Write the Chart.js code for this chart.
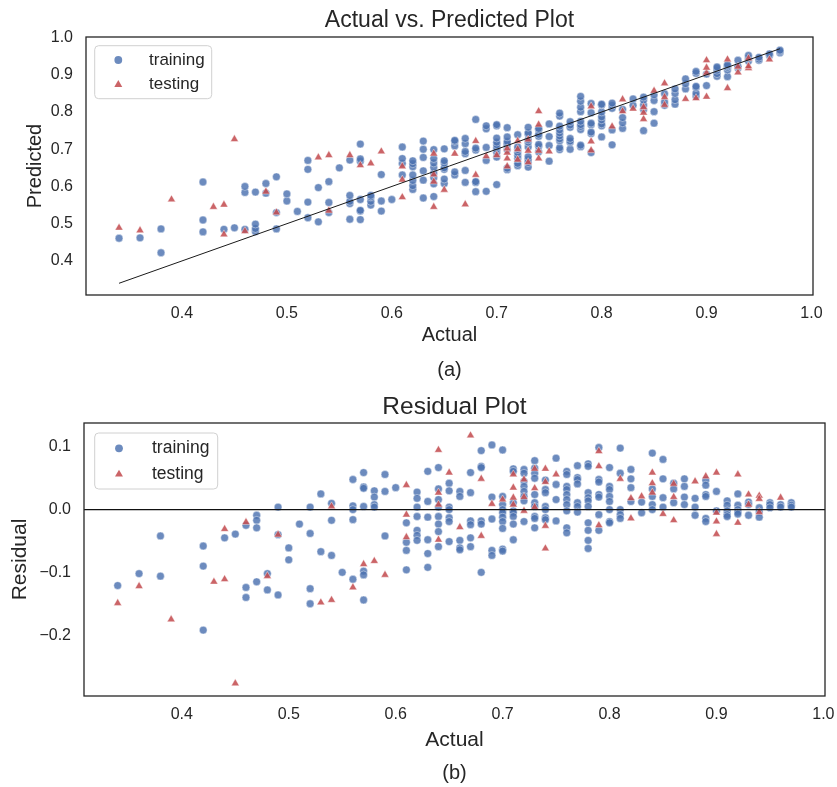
<!DOCTYPE html>
<html lang="en">
<head>
<meta charset="UTF-8">
<title>Actual vs. Predicted Plot / Residual Plot</title>
<script src="https://cdn.jsdelivr.net/npm/chart.js"></script>
<style>
  body { margin: 0; background: #fff; }
  #wrap { position: relative; width: 837px; height: 787px; }
  #wrap canvas { position: absolute; left: 0; }
</style>
</head>
<body>
<div id="wrap">
  <canvas id="predChart" width="837" height="388" style="top:0"></canvas>
  <canvas id="residChart" width="837" height="399" style="top:388px"></canvas>
</div>
<script>
// [actual, residual] pairs, residual = actual - predicted
const trainPoints = [
  [0.34, -0.121], [0.36, -0.102], [0.38, -0.042], [0.38, -0.106],
  [0.42, -0.058], [0.42, -0.090], [0.42, -0.192], [0.44, -0.045], [0.45, -0.039],
  [0.46, -0.025], [0.46, -0.124], [0.46, -0.140],
  [0.47, -0.009], [0.47, -0.017], [0.47, -0.029], [0.47, -0.115],
  [0.48, -0.102], [0.48, -0.128],
  [0.49, 0.004], [0.49, -0.040], [0.49, -0.136],
  [0.50, -0.061], [0.50, -0.080], [0.51, -0.023],
  [0.52, 0.004], [0.52, -0.038], [0.52, -0.126], [0.52, -0.150],
  [0.53, 0.025], [0.53, -0.067],
  [0.54, 0.010], [0.54, -0.017], [0.54, -0.073], [0.55, -0.100],
  [0.56, 0.048], [0.56, 0.006], [0.56, 0.000], [0.56, -0.016], [0.56, -0.111],
  [0.57, 0.059], [0.57, 0.036], [0.57, 0.034], [0.57, 0.005], [0.57, -0.098], [0.57, -0.104], [0.57, -0.144],
  [0.58, 0.030], [0.58, 0.020], [0.58, 0.008], [0.58, 0.004],
  [0.59, 0.056], [0.59, 0.029], [0.59, -0.042], [0.60, 0.035],
  [0.61, -0.021], [0.61, -0.052], [0.61, -0.065], [0.61, -0.096],
  [0.62, 0.028], [0.62, 0.018], [0.62, 0.004], [0.62, -0.011], [0.62, -0.033], [0.62, -0.041], [0.62, -0.049],
  [0.63, 0.061], [0.63, 0.013], [0.63, -0.012], [0.63, -0.048], [0.63, -0.070], [0.63, -0.092],
  [0.64, 0.067], [0.64, 0.033], [0.64, 0.016], [0.64, 0.004], [0.64, -0.011], [0.64, -0.023], [0.64, -0.035], [0.64, -0.059],
  [0.65, 0.042], [0.65, 0.030], [0.65, 0.004], [0.65, 0.000], [0.65, -0.013], [0.65, -0.019], [0.65, -0.051],
  [0.66, 0.029], [0.66, 0.021], [0.66, -0.049], [0.66, -0.061], [0.66, -0.064],
  [0.67, 0.059], [0.67, 0.027], [0.67, -0.018], [0.67, -0.024], [0.67, -0.045], [0.67, -0.059],
  [0.68, 0.094], [0.68, 0.069], [0.68, 0.067], [0.68, -0.018], [0.68, -0.023], [0.68, -0.100],
  [0.69, 0.103], [0.69, 0.020], [0.69, -0.015], [0.69, -0.065], [0.69, -0.073],
  [0.70, 0.095], [0.70, 0.021], [0.70, 0.008], [0.70, 0.000], [0.70, -0.005], [0.70, -0.012], [0.70, -0.019], [0.70, -0.030], [0.70, -0.063], [0.70, -0.066],
  [0.71, 0.065], [0.71, 0.061], [0.71, 0.011], [0.71, -0.002], [0.71, -0.005], [0.71, -0.011], [0.71, -0.023], [0.71, -0.048],
  [0.72, 0.064], [0.72, 0.058], [0.72, 0.045], [0.72, 0.037], [0.72, 0.029], [0.72, 0.021], [0.72, 0.014], [0.72, -0.019],
  [0.73, 0.078], [0.73, 0.066], [0.73, 0.058], [0.73, 0.050], [0.73, 0.024], [0.73, 0.011], [0.73, 0.005], [0.73, -0.011], [0.73, -0.014], [0.73, -0.029],
  [0.74, 0.047], [0.74, 0.032], [0.74, 0.027], [0.74, 0.005], [0.74, 0.000], [0.74, -0.013], [0.74, -0.016],
  [0.75, 0.082], [0.75, 0.040], [0.75, 0.016], [0.75, -0.018],
  [0.76, 0.061], [0.76, 0.056], [0.76, 0.037], [0.76, 0.032], [0.76, 0.024], [0.76, 0.016], [0.76, 0.008], [0.76, -0.002], [0.76, -0.029], [0.76, -0.037],
  [0.77, 0.070], [0.77, 0.051], [0.77, 0.048], [0.77, 0.041], [0.77, 0.011], [0.77, 0.005], [0.77, -0.004],
  [0.78, 0.073], [0.78, 0.069], [0.78, 0.027], [0.78, 0.019], [0.78, 0.014], [0.78, 0.005], [0.78, -0.021], [0.78, -0.033], [0.78, -0.049], [0.78, -0.062],
  [0.79, 0.099], [0.79, 0.048], [0.79, 0.044], [0.79, 0.024], [0.79, 0.020], [0.79, -0.008], [0.79, -0.033],
  [0.80, 0.067], [0.80, 0.037], [0.80, 0.032], [0.80, 0.021], [0.80, 0.013], [0.80, 0.000], [0.80, -0.019], [0.80, -0.021],
  [0.81, 0.098], [0.81, 0.058], [0.81, 0.000], [0.81, -0.008], [0.81, -0.014],
  [0.82, 0.064], [0.82, 0.049], [0.82, 0.035], [0.82, 0.013], [0.83, 0.012], [0.83, -0.005],
  [0.84, 0.090], [0.84, 0.033], [0.84, 0.021], [0.84, 0.008], [0.84, 0.000],
  [0.85, 0.080], [0.85, 0.049], [0.85, 0.019], [0.85, 0.004],
  [0.86, 0.042], [0.86, 0.033], [0.86, 0.011],
  [0.87, 0.049], [0.87, 0.037], [0.87, 0.020], [0.87, 0.008],
  [0.88, 0.018], [0.88, 0.004], [0.88, -0.009],
  [0.89, 0.047], [0.89, 0.039], [0.89, 0.024], [0.89, 0.021], [0.89, -0.014], [0.89, -0.019],
  [0.90, 0.029], [0.90, -0.002],
  [0.91, 0.014], [0.91, 0.007], [0.91, -0.002], [0.91, -0.008], [0.91, -0.011],
  [0.92, 0.025], [0.92, 0.007], [0.92, 0.000], [0.92, -0.004], [0.92, -0.007],
  [0.93, 0.012], [0.93, 0.008], [0.93, -0.009],
  [0.94, 0.003], [0.94, -0.004], [0.94, -0.012],
  [0.95, 0.011], [0.95, 0.008], [0.95, 0.003],
  [0.96, 0.008], [0.96, 0.004],
  [0.97, 0.011], [0.97, 0.007], [0.97, 0.004]
];

const testPoints = [
  [0.34, -0.149], [0.36, -0.122], [0.39, -0.175], [0.43, -0.115],
  [0.44, -0.111], [0.44, -0.031], [0.45, -0.277], [0.46, -0.020],
  [0.48, -0.106], [0.49, -0.040], [0.53, -0.148], [0.54, -0.144], [0.54, 0.005],
  [0.56, -0.124], [0.57, -0.087], [0.58, -0.082], [0.59, -0.104],
  [0.61, 0.039], [0.61, -0.008], [0.61, -0.044],
  [0.64, 0.095], [0.64, 0.027], [0.64, 0.008], [0.64, -0.048],
  [0.65, 0.059], [0.66, -0.028], [0.67, 0.118], [0.68, 0.049], [0.68, -0.042],
  [0.69, 0.009], [0.70, 0.016],
  [0.71, 0.056], [0.71, 0.035], [0.71, 0.019], [0.71, 0.008],
  [0.72, 0.048], [0.72, 0.020], [0.72, -0.002],
  [0.73, 0.065], [0.73, 0.034], [0.73, 0.004],
  [0.74, 0.065], [0.74, 0.044], [0.74, -0.026], [0.74, -0.062],
  [0.75, 0.056], [0.79, 0.093], [0.79, 0.069], [0.79, -0.025],
  [0.81, 0.049], [0.82, 0.018], [0.82, -0.014], [0.83, 0.021],
  [0.84, 0.059], [0.84, 0.042], [0.84, 0.027], [0.85, -0.007],
  [0.86, 0.041], [0.86, 0.020], [0.86, -0.017], [0.88, 0.045], [0.89, 0.053],
  [0.90, 0.059], [0.90, -0.005], [0.90, -0.019], [0.90, -0.039],
  [0.92, 0.056], [0.92, -0.021], [0.93, 0.024], [0.93, 0.008],
  [0.94, 0.022], [0.94, 0.017], [0.94, -0.004], [0.96, 0.019]
];

const seriesNames = ['training', 'testing'];
const xLimits = [0.3085, 1.0015];
const predLimits = [0.3085, 1.0015];
const residLimits = [-0.297, 0.138];
const xTicks = [0.4, 0.5, 0.6, 0.7, 0.8, 0.9, 1.0];
const predTicks = [0.4, 0.5, 0.6, 0.7, 0.8, 0.9, 1.0];
const residTicks = [-0.2, -0.1, 0.0, 0.1];

const ink = '#262626';
const family = '"Liberation Sans", Arial, sans-serif';
const blue = 'rgba(76, 114, 176, 0.82)';
const red = 'rgba(196, 78, 82, 0.88)';

const fmt = v => Number(v).toFixed(1).replace('-', '\u2212');

function toPred(points) {
  return points.map(p => ({ x: p[0], y: +(p[0] - p[1]).toFixed(4) }));
}
function toResid(points) {
  return points.map(p => ({ x: p[0], y: p[1] }));
}

const allActual = trainPoints.concat(testPoints).map(p => p[0]);
const lo = Math.min(...allActual), hi = Math.max(...allActual);

function pointSets(train, test) {
  return [
    { label: seriesNames[0], data: train, pointStyle: 'circle', pointRadius: 3.9,
      backgroundColor: blue, borderColor: 'rgba(255,255,255,0.6)', borderWidth: 0.7, order: 2 },
    { label: seriesNames[1], data: test, pointStyle: 'triangle', pointRadius: 4.6,
      backgroundColor: red, borderColor: 'rgba(255,255,255,0.6)', borderWidth: 0.7, order: 1 }
  ];
}

function axis(limits, ticks, title, o) {
  return {
    type: 'linear', min: limits[0], max: limits[1],
    grid: { display: false, drawTicks: false },
    border: { display: false },
    afterBuildTicks: s => { s.ticks = ticks.map(v => ({ value: v })); },
    afterFit: s => {
      if (o.width) { s.width = o.width; s.paddingTop = 0; s.paddingBottom = 0; }
      if (o.height) { s.height = o.height; s.paddingLeft = 0; s.paddingRight = 0; }
    },
    ticks: { color: ink, font: { size: 16, family }, padding: o.pad, autoSkip: false,
             maxRotation: 0, callback: v => fmt(v) },
    title: { display: true, text: title, color: ink,
             font: { size: o.titleSize, family }, padding: o.titlePad }
  };
}

// axes frame and boxed legend inside the plot area
const frameLegend = {
  id: 'frameLegend',
  afterDatasetsDraw(chart, args, o) {
    const { ctx, chartArea: a } = chart;
    ctx.save();
    ctx.strokeStyle = ink;
    ctx.lineWidth = 1.3;
    ctx.strokeRect(a.left, a.top, a.right - a.left, a.bottom - a.top);

    const bx = a.left + o.x, by = a.top + o.y;
    ctx.beginPath();
    ctx.roundRect(bx, by, o.w, o.h, 4);
    ctx.fillStyle = 'rgba(255,255,255,0.85)';
    ctx.fill();
    ctx.strokeStyle = '#d0d0d0';
    ctx.lineWidth = 1;
    ctx.stroke();

    ctx.font = o.fontSize + 'px ' + family;
    ctx.textBaseline = 'middle';
    chart.data.datasets.slice(0, 2).forEach((ds, i) => {
      const mx = bx + o.markerX, my = by + o.rows[i];
      ctx.fillStyle = ds.backgroundColor;
      ctx.beginPath();
      if (ds.pointStyle === 'circle') {
        ctx.arc(mx, my, 3.9, 0, Math.PI * 2);
      } else {
        const r = 4.6;
        ctx.moveTo(mx, my - r);
        ctx.lineTo(mx + r * 0.866, my + r * 0.5);
        ctx.lineTo(mx - r * 0.866, my + r * 0.5);
        ctx.closePath();
      }
      ctx.fill();
      ctx.fillStyle = ink;
      ctx.fillText(ds.label, bx + o.textX, my);
    });
    ctx.restore();
  }
};

const common = {
  responsive: false,
  animation: false,
  events: [],
  devicePixelRatio: 1
};

new Chart(document.getElementById('predChart'), {
  type: 'scatter',
  data: {
    datasets: pointSets(toPred(trainPoints), toPred(testPoints)).concat([{
      type: 'line', label: 'ideal', data: [{ x: lo, y: lo }, { x: hi, y: hi }],
      borderColor: '#1a1a1a', borderWidth: 1, pointRadius: 0, fill: false, order: 0
    }])
  },
  options: Object.assign({}, common, {
    layout: { padding: { left: 0, right: 24, top: 0, bottom: 0 } },
    scales: {
      x: axis(xLimits, xTicks, 'Actual', { height: 63, pad: 9, titleSize: 20, titlePad: { top: 0, bottom: 11 } }),
      y: axis(predLimits, predTicks, 'Predicted', { width: 86, pad: 13, titleSize: 20, titlePad: { top: 23, bottom: 0 } })
    },
    plugins: {
      legend: { display: false },
      tooltip: { enabled: false },
      title: { display: true, fullSize: false, text: 'Actual vs. Predicted Plot', color: ink,
               font: { size: 23, weight: 'normal', family }, padding: { top: 6.4, bottom: 3 } },
      subtitle: { display: true, fullSize: false, position: 'bottom', text: '(a)', color: ink,
                  font: { size: 20, family }, padding: { top: 0, bottom: 6 } },
      frameLegend: { x: 8.7, y: 8.7, w: 117, h: 53, markerX: 23.6, textX: 54.3, rows: [14.3, 39], fontSize: 17 }
    }
  }),
  plugins: [frameLegend]
});

new Chart(document.getElementById('residChart'), {
  type: 'scatter',
  data: {
    datasets: pointSets(toResid(trainPoints), toResid(testPoints)).concat([{
      type: 'line', label: 'zero', data: [{ x: xLimits[0], y: 0 }, { x: xLimits[1], y: 0 }],
      borderColor: '#111111', borderWidth: 1.4, pointRadius: 0, fill: false, order: 0
    }])
  },
  options: Object.assign({}, common, {
    layout: { padding: { left: 0, right: 12, top: 0, bottom: 0 } },
    scales: {
      x: axis(xLimits, xTicks, 'Actual', { height: 65, pad: 9, titleSize: 21, titlePad: { top: 0, bottom: 8.4 } }),
      y: axis(residLimits, residTicks, 'Residual', { width: 84, pad: 13, titleSize: 21, titlePad: { top: 7.4, bottom: 0 } })
    },
    plugins: {
      legend: { display: false },
      tooltip: { enabled: false },
      title: { display: true, fullSize: false, text: 'Residual Plot', color: ink,
               font: { size: 24.5, weight: 'normal', family }, padding: { top: 5, bottom: 0.6 } },
      subtitle: { display: true, fullSize: false, position: 'bottom', text: '(b)', color: ink,
                  font: { size: 20, family }, padding: { top: 0, bottom: 2 } },
      frameLegend: { x: 10.7, y: 10, w: 123, h: 56, markerX: 24.3, textX: 57.3, rows: [15.3, 41.3], fontSize: 17.5 }
    }
  }),
  plugins: [frameLegend]
});
</script>
</body>
</html>
